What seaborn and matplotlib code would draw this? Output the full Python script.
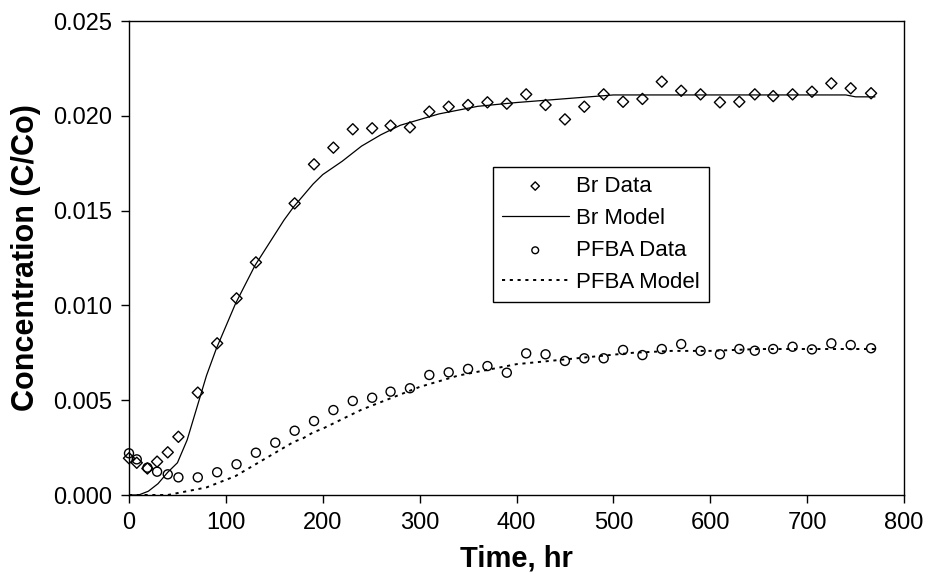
import matplotlib
matplotlib.use("Agg")
import matplotlib.pyplot as plt
import seaborn as sns

# ---- data ----
br_time = [0, 8, 19, 29, 40, 51, 71, 91, 111, 131, 171, 191, 211, 231, 251, 270, 290,
           310, 330, 350, 370, 390, 410, 430, 450, 470, 490, 510, 530, 550, 570, 590,
           610, 630, 646, 665, 685, 705, 725, 745, 766]
br_conc = [0.00194, 0.00170, 0.00140, 0.00176, 0.00225, 0.00307, 0.0054, 0.0080, 0.01037,
           0.01227, 0.01538, 0.01744, 0.01832, 0.01929, 0.01934, 0.01948, 0.01939,
           0.02022, 0.02048, 0.02057, 0.02071, 0.02064, 0.02113, 0.02057, 0.01981,
           0.02048, 0.02113, 0.02074, 0.02089, 0.0218, 0.02132, 0.02113, 0.02071,
           0.02074, 0.02113, 0.02104, 0.02113, 0.02127, 0.02171, 0.02145, 0.02119]

pfba_time = [0, 8, 19, 29, 40, 51, 71, 91, 111, 131, 151, 171, 191, 211, 231, 251, 270,
             290, 310, 330, 350, 370, 390, 410, 430, 450, 470, 490, 510, 530, 550, 570,
             590, 610, 630, 646, 665, 685, 705, 725, 745, 766]
pfba_conc = [0.0022, 0.00188, 0.00144, 0.00123, 0.00109, 0.00093, 0.00093, 0.0012,
             0.00162, 0.00223, 0.00276, 0.00339, 0.0039, 0.00448, 0.00496, 0.00513,
             0.00545, 0.00563, 0.00633, 0.00647, 0.00665, 0.0068, 0.00645, 0.00747,
             0.00742, 0.00707, 0.00721, 0.00721, 0.00765, 0.00738, 0.0077, 0.00796,
             0.0076, 0.00742, 0.0077, 0.00761, 0.0077, 0.00782, 0.00768, 0.008,
             0.00791, 0.00774]

br_model_time = [0, 10, 20, 30, 40, 50, 60, 70, 80, 90, 100, 110, 120, 130, 140, 150,
                 160, 170, 180, 190, 200, 220, 240, 260, 280, 300, 320, 340, 360, 380,
                 400, 450, 500, 550, 600, 650, 700, 740, 750, 770]
br_model_conc = [0.0, 0.0, 0.0002, 0.0006, 0.0012, 0.0017, 0.0029, 0.0046, 0.0063,
                 0.0077, 0.0089, 0.0101, 0.0111, 0.0121, 0.0129, 0.0137, 0.0145, 0.0152,
                 0.0158, 0.0164, 0.0169, 0.0176, 0.0184, 0.0190, 0.0195, 0.0198, 0.0201,
                 0.0203, 0.0205, 0.0206, 0.0207, 0.0209, 0.0211, 0.0211, 0.0211, 0.0211,
                 0.0211, 0.0211, 0.0210, 0.0210]

pfba_model_time = [0, 20, 40, 50, 60, 70, 80, 90, 100, 110, 120, 130, 140, 150, 160, 170,
                   180, 190, 200, 220, 240, 260, 280, 300, 320, 340, 360, 380, 400, 440,
                   480, 520, 560, 600, 650, 700, 770]
pfba_model_conc = [0.0, 0.0, 0.0, 0.0001, 0.0002, 0.0003, 0.0004, 0.0006, 0.0008, 0.0010,
                   0.0013, 0.0016, 0.0019, 0.0022, 0.0025, 0.0028, 0.0030, 0.0033, 0.0035,
                   0.0040, 0.0045, 0.0049, 0.0053, 0.0057, 0.0060, 0.0063, 0.0065, 0.0067,
                   0.0069, 0.0071, 0.0073, 0.0075, 0.0076, 0.0076, 0.0077, 0.0077, 0.0077]

x_ticks = [0, 100, 200, 300, 400, 500, 600, 700, 800]
y_ticks = [0.000, 0.005, 0.010, 0.015, 0.020, 0.025]

# ---- style ----
sns.set_style("ticks")
plt.rcParams['font.family'] = ['Liberation Sans', 'DejaVu Sans']
plt.rcParams['text.color'] = 'black'
plt.rcParams['axes.labelcolor'] = 'black'

fig = plt.figure(figsize=(9.25, 5.77), dpi=100)
ax = fig.add_axes([129 / 925, 1 - 495 / 577, (904 - 129) / 925, (495 - 21) / 577])

sns.lineplot(x=br_model_time, y=br_model_conc, ax=ax, color='black', linewidth=0.9,
             label='Br Model', estimator=None, sort=False)
sns.lineplot(x=pfba_model_time, y=pfba_model_conc, ax=ax, color='black', linewidth=1.4,
             linestyle=(0, (1.6, 2.4)), label='PFBA Model', estimator=None, sort=False)
sns.scatterplot(x=br_time, y=br_conc, ax=ax, marker='D', s=32, facecolor='none',
                edgecolor='black', linewidth=1.0, label='Br Data', zorder=3, clip_on=False)
sns.scatterplot(x=pfba_time, y=pfba_conc, ax=ax, marker='o', s=42, facecolor='none',
                edgecolor='black', linewidth=1.0, label='PFBA Data', zorder=3, clip_on=False)

ax.set_xlim(0, 800)
ax.set_ylim(0, 0.025)
ax.set_xticks(x_ticks)
ax.set_yticks(y_ticks)
ax.set_xticklabels([str(v) for v in x_ticks])
ax.set_yticklabels([f"{v:.3f}" for v in y_ticks])
ax.tick_params(direction='out', length=6, width=1, labelsize=17, colors='black', pad=6)
for sp in ax.spines.values():
    sp.set_color('black')
    sp.set_linewidth(1.0)

ax.set_xlabel('Time, hr', fontsize=21, fontweight='bold', labelpad=8, color='black')
ax.set_ylabel('Concentration (C/Co)', fontsize=22, fontweight='bold', labelpad=9,
              color='black')

handles, labels = ax.get_legend_handles_labels()
order = ['Br Data', 'Br Model', 'PFBA Data', 'PFBA Model']
hmap = dict(zip(labels, handles))
leg = ax.legend([hmap[k] for k in order], order, loc='upper left',
                bbox_to_anchor=((493 - 129) / 775, (495 - 167) / 474),
                fontsize=16, frameon=True, fancybox=False, shadow=False,
                edgecolor='black', framealpha=1, markerscale=0.75,
                handlelength=3.0, handletextpad=0.35, labelspacing=0.5,
                borderpad=0.4, borderaxespad=0, labelcolor='black')
leg.get_frame().set_linewidth(1.0)

fig.savefig('out.png', dpi=100, facecolor='white')
